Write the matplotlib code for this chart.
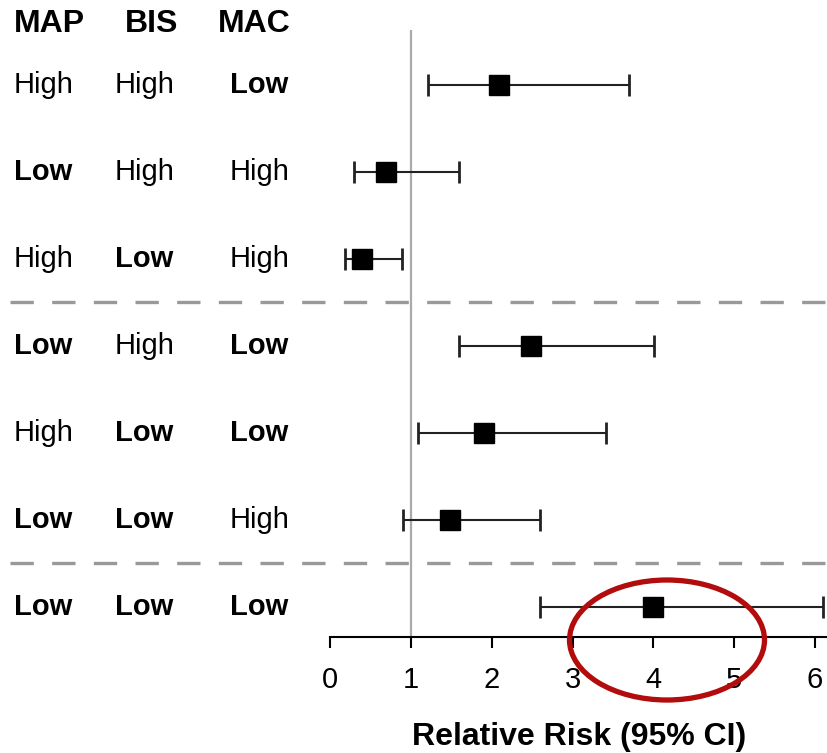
import matplotlib
matplotlib.use('Agg')
import matplotlib.pyplot as plt
import matplotlib.transforms as mtransforms
from matplotlib.patches import Ellipse

plt.rcParams['font.family'] = ['Liberation Sans', 'DejaVu Sans']

# data
headers = ['MAP', 'BIS', 'MAC']
map_level = ['High', 'Low', 'High', 'Low', 'High', 'Low', 'Low']
bis_level = ['High', 'High', 'Low', 'High', 'Low', 'Low', 'Low']
mac_level = ['Low', 'High', 'High', 'Low', 'Low', 'High', 'Low']
rr = [2.09, 0.69, 0.40, 2.49, 1.90, 1.49, 4.00]
ci_lo = [1.21, 0.30, 0.19, 1.60, 1.09, 0.90, 2.60]
ci_hi = [3.70, 1.60, 0.89, 4.01, 3.41, 2.60, 6.10]
group_breaks = [2.5, 5.5]
ticks = [0, 1, 2, 3, 4, 5, 6]

W, H = 828, 753
fig = plt.figure(figsize=(W / 100, H / 100), dpi=100)
ax = fig.add_axes([330 / W, (H - 637) / H, (W - 330) / W, (637 - 30) / H])

rows = list(range(len(rr)))
err = [[r - lo for r, lo in zip(rr, ci_lo)], [hi - r for r, hi in zip(rr, ci_hi)]]
ax.errorbar(rr, rows, xerr=err, fmt='s', color='black', ms=14, ecolor='#222222',
            elinewidth=1.5, capsize=8, capthick=2, zorder=3)

ax.axvline(1, color='#aaaaaa', lw=1.6, zorder=1)
for b in group_breaks:
    ax.plot([-0.643, 1.0], [b, b], transform=ax.get_yaxis_transform(), clip_on=False,
            color='#999999', lw=2.4, dashes=(7, 5.5))

ax.set_xlim(0, 6.16)
ax.set_ylim(6.345, -0.632)
ax.set_xticks(ticks)
ax.set_xticklabels([str(t) for t in ticks])
ax.tick_params(axis='x', direction='out', length=8, width=1.5, labelsize=21, pad=13)
ax.set_yticks([])
for s in ['top', 'right', 'left']:
    ax.spines[s].set_visible(False)
ax.spines['bottom'].set_linewidth(1.5)
ax.set_xlabel('Relative Risk (95% CI)', fontsize=23, fontweight='bold', labelpad=20)

# row labels on the left
col_x = [14, 115, 230]
head_x = [14, 125, 218]
for hx, h in zip(head_x, headers):
    fig.text(hx / W, 1 - 24 / H, h, fontsize=23, fontweight='bold', ha='left', va='center')
trans = mtransforms.blended_transform_factory(fig.transFigure, ax.transData)
for i in rows:
    for cx, lv in zip(col_x, [map_level[i], bis_level[i], mac_level[i]]):
        wt = 'bold' if lv == 'Low' else 'normal'
        ax.text(cx / W, i, lv, transform=trans, fontsize=21, fontweight=wt,
                ha='left', va='center', clip_on=False)

# red highlight ring
ring = Ellipse((667 / W, 1 - 640 / H), 195 / W, 120 / H, transform=fig.transFigure,
               fill=False, edgecolor='#b30c0c', lw=3.8, zorder=5)
fig.add_artist(ring)

plt.savefig('out.png', dpi=100)
